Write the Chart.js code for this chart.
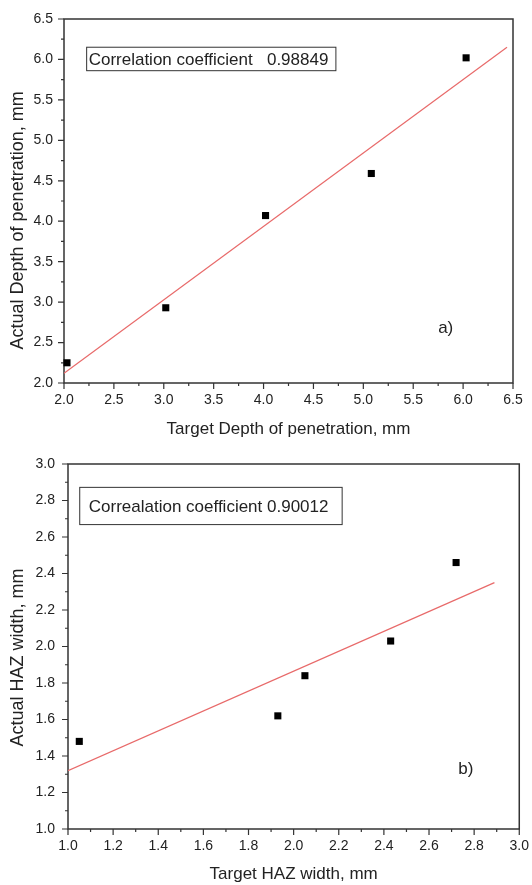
<!DOCTYPE html>
<html>
<head>
<meta charset="utf-8">
<script src="https://cdn.jsdelivr.net/npm/chart.js@4.4.1/dist/chart.umd.min.js"></script>
<style>
  body { margin: 0; background: #fff; }
  .panel { position: absolute; left: 0; width: 532px; }
</style>
</head>
<body>
<div class="panel" style="top:0;height:440px"><canvas id="depthChart"></canvas></div>
<div class="panel" style="top:440px;height:445px"><canvas id="hazChart"></canvas></div>
<script>
// (a) depth of penetration
const depthTarget = [2.03, 3.02, 4.02, 5.08, 6.03];
const depthActual = [2.25, 2.93, 4.07, 4.59, 6.02];
const depthFitX = [2.0, 6.44];
const depthFitY = [2.12, 6.15];
const depthXLabels = ["2.0", "2.5", "3.0", "3.5", "4.0", "4.5", "5.0", "5.5", "6.0", "6.5"];
const depthYLabels = ["2.0", "2.5", "3.0", "3.5", "4.0", "4.5", "5.0", "5.5", "6.0", "6.5"];

// (b) HAZ width
const hazTarget = [1.05, 1.93, 2.05, 2.43, 2.72];
const hazActual = [1.48, 1.62, 1.84, 2.03, 2.46];
const hazFitX = [1.0, 2.89];
const hazFitY = [1.32, 2.35];
const hazXLabels = ["1.0", "1.2", "1.4", "1.6", "1.8", "2.0", "2.2", "2.4", "2.6", "2.8", "3.0"];
const hazYLabels = ["1.0", "1.2", "1.4", "1.6", "1.8", "2.0", "2.2", "2.4", "2.6", "2.8", "3.0"];

const FONT = "'Liberation Sans', Arial, sans-serif";
const INK = "#222";

// frame, outward major/minor ticks, rotated y title, text box and panel tag
const originLook = {
  id: "originLook",
  beforeDatasetsDraw(chart, args, o) {
    const { ctx, chartArea: a, scales: { x, y } } = chart;
    ctx.save();
    ctx.strokeStyle = "#333";
    ctx.lineWidth = 1.5;
    ctx.strokeRect(a.left, a.top, a.right - a.left, a.bottom - a.top);

    ctx.lineWidth = 1.2;
    ctx.beginPath();
    x.ticks.forEach(t => {
      const px = x.getPixelForValue(t.value);
      ctx.moveTo(px, a.bottom);
      ctx.lineTo(px, a.bottom + (t.label ? 6 : 3));
    });
    y.ticks.forEach(t => {
      const py = y.getPixelForValue(t.value);
      ctx.moveTo(a.left, py);
      ctx.lineTo(a.left - (t.label ? 6 : 3), py);
    });
    ctx.stroke();

    ctx.fillStyle = INK;
    ctx.textBaseline = "middle";

    // y axis title
    ctx.save();
    ctx.translate(o.yTitleX, y.getPixelForValue(o.yTitleAt));
    ctx.rotate(-Math.PI / 2);
    ctx.textAlign = "center";
    ctx.font = "18px " + FONT;
    ctx.fillText(o.yTitle, 0, 0);
    ctx.restore();

    // correlation box
    const b = o.box;
    const bx0 = x.getPixelForValue(b.x0), bx1 = x.getPixelForValue(b.x1);
    const by0 = y.getPixelForValue(b.y0), by1 = y.getPixelForValue(b.y1);
    ctx.lineWidth = 1;
    ctx.strokeStyle = "#333";
    ctx.strokeRect(bx0, by0, bx1 - bx0, by1 - by0);
    ctx.font = "17px " + FONT;
    ctx.textAlign = "left";
    ctx.fillText(b.text, bx0 + b.inset, (by0 + by1) / 2 + 1);

    // panel tag
    ctx.fillText(o.tag.text, x.getPixelForValue(o.tag.x), y.getPixelForValue(o.tag.y));
    ctx.restore();
  }
};

function tickText(labels) {
  return v => {
    const s = Number(v).toFixed(1);
    return labels.includes(s) ? s : "";
  };
}

function makeChart(id, p) {
  const tickFont = { family: FONT, size: 14 };
  return new Chart(document.getElementById(id), {
    type: "scatter",
    data: {
      datasets: [
        {
          label: "measured",
          data: p.xs.map((v, i) => ({ x: v, y: p.ys[i] })),
          pointStyle: "rect",
          pointRadius: 5,
          backgroundColor: "#000",
          borderColor: "#000",
          borderWidth: 0,
          clip: false,
        },
        {
          label: "linear fit",
          data: p.fitX.map((v, i) => ({ x: v, y: p.fitY[i] })),
          showLine: true,
          pointRadius: 0,
          borderColor: "#e86a6a",
          borderWidth: 1.2,
        },
      ],
    },
    options: {
      responsive: true,
      maintainAspectRatio: false,
      animation: false,
      layout: { padding: { left: 0, right: p.padRight, top: p.padTop, bottom: 0 } },
      plugins: {
        legend: { display: false },
        tooltip: { enabled: false },
        originLook: p.look,
      },
      scales: {
        x: {
          type: "linear",
          min: Number(p.xLabels[0]),
          max: Number(p.xLabels[p.xLabels.length - 1]),
          ticks: {
            stepSize: p.xStep,
            autoSkip: false,
            maxRotation: 0,
            padding: 3,
            color: INK,
            font: tickFont,
            callback: tickText(p.xLabels),
          },
          grid: { drawOnChartArea: false, tickColor: "transparent", tickLength: 6 },
          border: { display: false },
          title: {
            display: true,
            text: p.xTitle,
            color: INK,
            font: { family: FONT, size: 17 },
            padding: { top: 0, bottom: p.xTitlePad },
          },
          afterFit: s => { s.height = p.xAxisHeight; },
        },
        y: {
          type: "linear",
          min: Number(p.yLabels[0]),
          max: Number(p.yLabels[p.yLabels.length - 1]),
          ticks: {
            stepSize: p.yStep,
            autoSkip: false,
            padding: p.yTickPad,
            color: INK,
            font: tickFont,
            callback: tickText(p.yLabels),
          },
          grid: { drawOnChartArea: false, tickColor: "transparent", tickLength: 6 },
          border: { display: false },
          afterFit: s => { s.width = p.yAxisWidth; },
        },
      },
    },
    plugins: [originLook],
  });
}

makeChart("depthChart", {
  xs: depthTarget, ys: depthActual, fitX: depthFitX, fitY: depthFitY,
  xLabels: depthXLabels, yLabels: depthYLabels, xStep: 0.25, yStep: 0.25,
  xTitle: "Target Depth of penetration, mm",
  padTop: 19, padRight: 19, yAxisWidth: 64, xAxisHeight: 57, xTitlePad: 0, yTickPad: 5,
  look: {
    yTitle: "Actual Depth of penetration, mm", yTitleX: 18, yTitleAt: 4.01,
    box: { text: "Correlation coefficient   0.98849", x0: 2.227, x1: 4.725, y0: 6.151, y1: 5.861, inset: 2 },
    tag: { text: "a)", x: 5.75, y: 2.68 },
  },
});

makeChart("hazChart", {
  xs: hazTarget, ys: hazActual, fitX: hazFitX, fitY: hazFitY,
  xLabels: hazXLabels, yLabels: hazYLabels, xStep: 0.1, yStep: 0.1,
  xTitle: "Target HAZ width, mm",
  padTop: 24, padRight: 11, yAxisWidth: 68, xAxisHeight: 56, xTitlePad: 0, yTickPad: 7,
  look: {
    yTitle: "Actual HAZ width, mm", yTitleX: 18, yTitleAt: 1.94,
    box: { text: "Correalation coefficient 0.90012", x0: 1.052, x1: 2.215, y0: 2.872, y1: 2.668, inset: 9 },
    tag: { text: "b)", x: 2.73, y: 1.325 },
  },
});
</script>
</body>
</html>
